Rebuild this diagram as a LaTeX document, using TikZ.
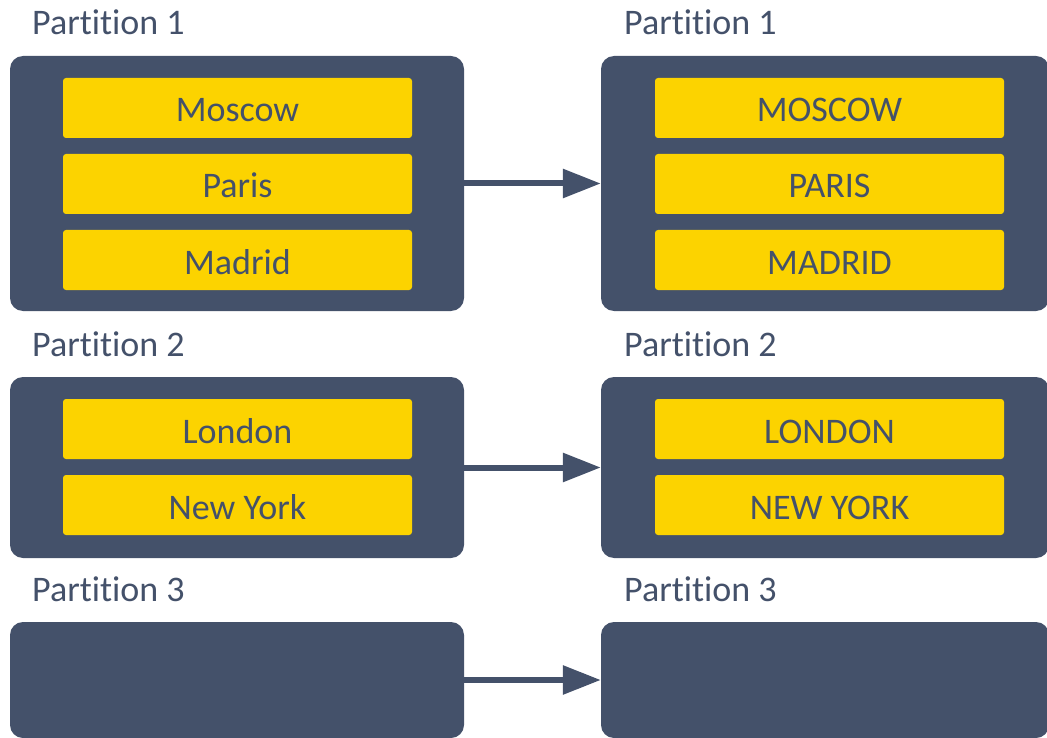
\documentclass[tikz,border=0pt]{standalone}
\usepackage{fontspec}
\setmainfont{Carlito}[RawFeature={-liga;-clig;-dlig}]
\usetikzlibrary{arrows.meta}
\definecolor{slate}{RGB}{68,81,106}
\definecolor{gold}{RGB}{252,211,0}
\tikzset{
  partbox/.style={fill=slate, draw=none, rounded corners=13pt, inner sep=0pt},
  cell/.style={fill=gold, draw=none, rounded corners=3pt, inner sep=0pt,
    minimum width=349pt, minimum height=60pt, text=slate,
    font=\fontsize{36pt}{43pt}\selectfont, text height=28pt, text depth=0pt},
  plabel/.style={anchor=base west, inner sep=0pt, text=slate,
    font=\fontsize{36pt}{43pt}\selectfont},
  flow/.style={draw=slate, line width=6pt,
    -{Triangle[length=38pt, width=28pt]}}
}
\begin{document}
\begin{tikzpicture}[x=1pt, y=-1pt]
\useasboundingbox (0,0) rectangle (1047,738);

% partition labels
\node[plabel] (t1l) at (32,35) {Part\kern0ptition 1};
\node[plabel] (t1r) at (624,35) {Part\kern0ptition 1};
\node[plabel] (t2l) at (32,356) {Part\kern0ptition 2};
\node[plabel] (t2r) at (624,356) {Part\kern0ptition 2};
\node[plabel] (t3l) at (32,601) {Part\kern0ptition 3};
\node[plabel] (t3r) at (624,601) {Part\kern0ptition 3};

% containers
\node[partbox, minimum width=454pt, minimum height=255pt] (p1l) at (237,183.5) {};
\node[partbox, minimum width=448pt, minimum height=255pt] (p1r) at (825,183.5) {};
\node[partbox, minimum width=454pt, minimum height=181pt] (p2l) at (237,467.5) {};
\node[partbox, minimum width=448pt, minimum height=181pt] (p2r) at (825,467.5) {};
\node[partbox, minimum width=454pt, minimum height=116pt] (p3l) at (237,680) {};
\node[partbox, minimum width=448pt, minimum height=116pt] (p3r) at (825,680) {};

% records
\node[cell] (moscow) at (237.5,108) {Moscow};
\node[cell] (paris)  at (237.5,184) {Paris};
\node[cell] (madrid) at (237.5,260) {Madrid};
\node[cell] (london) at (237.5,429) {London};
\node[cell] (newyork) at (237.5,505) {New York};

\node[cell] (moscowU) at (829.5,108) {MOSCOW};
\node[cell] (parisU)  at (829.5,184) {PARIS};
\node[cell] (madridU) at (829.5,260) {MADRID};
\node[cell] (londonU) at (829.5,429) {LONDON};
\node[cell] (newyorkU) at (829.5,505) {NEW YORK};

% transformation arrows
\draw[flow] (p1l.east) -- (p1r.west);
\draw[flow] (p2l.east) -- (p2r.west);
\draw[flow] (p3l.east) -- (p3r.west);
\end{tikzpicture}
\end{document}
